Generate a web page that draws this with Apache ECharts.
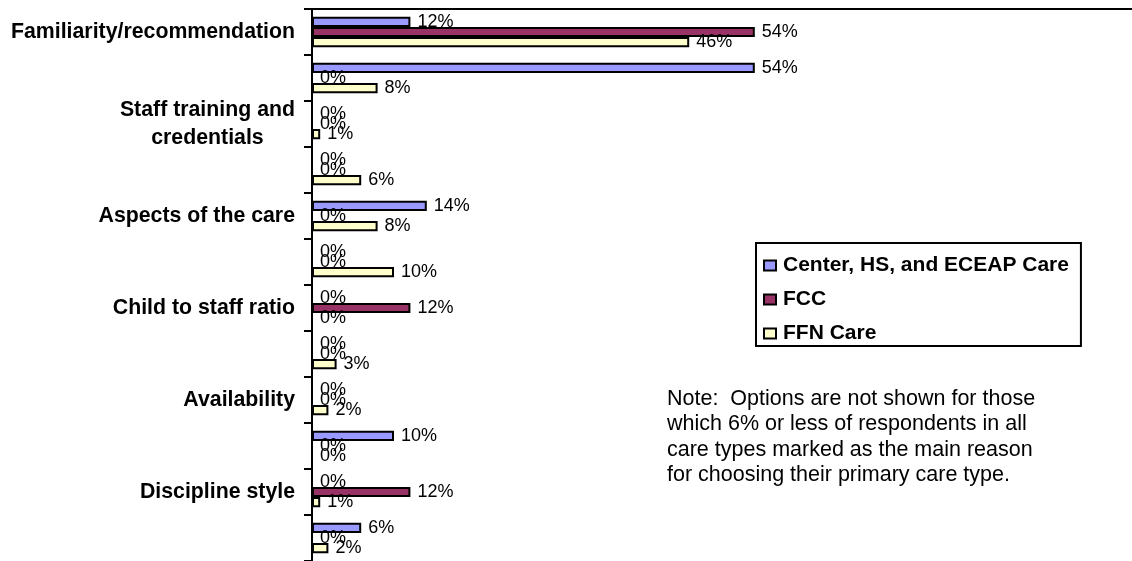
<!DOCTYPE html>
<html>
<head>
<meta charset="utf-8">
<script src="https://cdn.jsdelivr.net/npm/echarts@6/dist/echarts.min.js"></script>
<style>
  html, body { margin: 0; padding: 0; background: #fff; }
  #chart { width: 1132px; height: 561px; }
</style>
</head>
<body>
<div id="chart"></div>
<script>
// reasons (only every other one is labelled in the original)
var categories = [
  'Familiarity/recommendation', '',
  'Staff training and\ncredentials', '',
  'Aspects of the care', '',
  'Child to staff ratio', '',
  'Availability', '',
  'Discipline style', ''
];
var seriesNames = ['Center, HS, and ECEAP Care', 'FCC', 'FFN Care'];
var centerVals = [12, 54, 0, 0, 14, 0, 0, 0, 0, 10, 0, 6];
var fccVals = [54, 0, 0, 0, 0, 0, 12, 0, 0, 0, 12, 0];
var ffnVals = [46, 8, 1, 6, 8, 10, 0, 3, 2, 0, 1, 2];
var colors = ['#9999FF', '#993366', '#FFFFCC'];
var noteText = 'Note:  Options are not shown for those\nwhich 6% or less of respondents in all\ncare types marked as the main reason\nfor choosing their primary care type.';

var FONT = 'Arial, "Liberation Sans", sans-serif';
var chart = echarts.init(document.getElementById('chart'));

function makeSeries(name, vals, color) {
  return {
    name: name,
    type: 'bar',
    data: vals,
    barGap: '0%',
    barCategoryGap: '34%',
    itemStyle: { color: color, borderColor: '#000', borderWidth: 2 },
    label: {
      show: true,
      position: 'right',
      distance: 7,
      formatter: '{c}%',
      color: '#000',
      fontFamily: FONT,
      fontSize: 18
    },
    emphasis: { disabled: true },
    animation: false
  };
}

chart.setOption({
  backgroundColor: '#fff',
  textStyle: { fontFamily: FONT },
  grid: { left: 312, right: 0, top: 9, bottom: 0, containLabel: false },
  legend: {
    orient: 'vertical',
    left: 756,
    top: 243,
    data: seriesNames,
    icon: 'rect',
    selectedMode: false,
    itemWidth: 12,
    itemHeight: 10,
    itemGap: 13,
    padding: [12, 12, 2, 7],
    borderColor: '#000',
    borderWidth: 2,
    textStyle: { fontFamily: FONT, fontSize: 21, fontWeight: 'bold', color: '#000', padding: [0, 0, 0, 2] }
  },
  xAxis: {
    type: 'value',
    position: 'top',
    min: 0,
    max: 100,
    axisLine: { show: true, lineStyle: { color: '#000', width: 2 } },
    axisTick: { show: false },
    axisLabel: { show: false },
    splitLine: { show: false }
  },
  yAxis: {
    type: 'category',
    inverse: true,
    data: categories,
    axisLine: { show: true, lineStyle: { color: '#000', width: 2 } },
    axisTick: { show: true, length: 8, lineStyle: { color: '#000', width: 2 } },
    axisLabel: {
      interval: 0,
      margin: 17,
      formatter: function (v) {
        return v.split('\n').map(function (s) { return '{c|' + s + '}'; }).join('\n');
      },
      rich: {
        c: { align: 'center', fontFamily: FONT, fontSize: 21.3, fontWeight: 'bold', color: '#000', lineHeight: 28 }
      }
    }
  },
  series: [
    makeSeries(seriesNames[0], centerVals, colors[0]),
    makeSeries(seriesNames[1], fccVals, colors[1]),
    makeSeries(seriesNames[2], ffnVals, colors[2])
  ],
  graphic: [{
    type: 'text',
    left: 667,
    top: 386,
    style: {
      text: noteText,
      fill: '#000',
      font: '21.5px ' + FONT,
      lineHeight: 25.5
    }
  }]
});
</script>
</body>
</html>
